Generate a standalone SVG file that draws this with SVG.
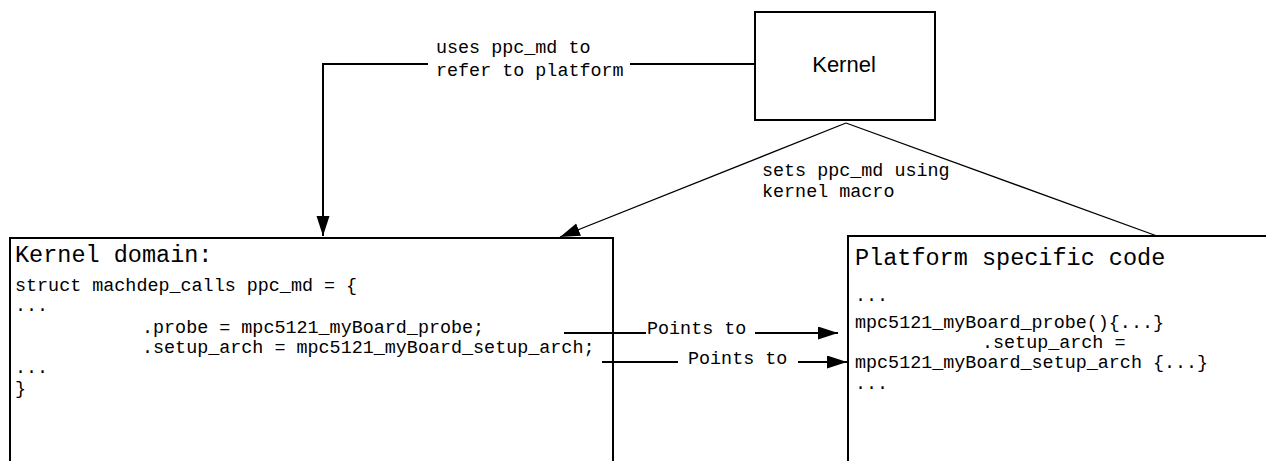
<svg xmlns="http://www.w3.org/2000/svg" width="1266" height="461" viewBox="0 0 1266 461">
<defs>
<style>
.box{fill:#fff;stroke:#000;stroke-width:2}
.mono{font-family:"Liberation Mono","DejaVu Sans Mono",monospace;fill:#000}
.code{font-size:18.4px}
.head{font-size:23.5px}
.lbl{font-size:18.4px}
.sans{font-family:"Liberation Sans",Arial,sans-serif;font-size:22px;fill:#000}
.thick{fill:none;stroke:#000;stroke-width:2}
.thin{fill:none;stroke:#000;stroke-width:1.3}
</style>
<marker id="arr" markerUnits="userSpaceOnUse" markerWidth="22" markerHeight="14" refX="20" refY="6.5" orient="auto">
<path d="M0,0 L20,6.5 L0,13 Z" fill="#000"/>
</marker>
</defs>
<rect width="1266" height="461" fill="#fff"/>
<g id="kernel">
<rect class="box" x="755" y="12" width="180" height="108"/>
<text class="sans" x="844" y="72" text-anchor="middle">Kernel</text>
</g>
<g id="kernel-domain">
<rect class="box" x="10" y="238" width="603" height="240"/>
<text class="mono head" x="15" y="262">Kernel domain:</text>
<text class="mono code" x="15" y="291">struct machdep_calls ppc_md = {</text>
<text class="mono code" x="15" y="311">...</text>
<text class="mono code" x="142" y="333">.probe = mpc5121_myBoard_probe;</text>
<text class="mono code" x="142" y="353">.setup_arch = mpc5121_myBoard_setup_arch;</text>
<text class="mono code" x="15" y="373">...</text>
<text class="mono code" x="15" y="394">}</text>
</g>
<g id="platform">
<rect class="box" x="848" y="236" width="440" height="240"/>
<text class="mono head" x="855" y="265">Platform specific code</text>
<text class="mono code" x="855" y="301">...</text>
<text class="mono code" x="855" y="328">mpc5121_myBoard_probe(){...}</text>
<text class="mono code" x="982" y="348">.setup_arch =</text>
<text class="mono code" x="855" y="368">mpc5121_myBoard_setup_arch {...}</text>
<text class="mono code" x="855" y="389">...</text>
</g>
<g id="connectors">
<path class="thick" d="M755,64 H630 M428,64 H323 V236" marker-end="url(#arr)"/>
<path class="thin" d="M846,123 L560,237" marker-end="url(#arr)"/>
<path class="thin" d="M846,123 L1157,236"/>
<path class="thick" d="M564,333 H646 M755,333 H838" marker-end="url(#arr)"/>
<path class="thick" d="M602,362 H678 M798,362 H847" marker-end="url(#arr)"/>
<text class="mono lbl" x="436" y="53">uses ppc_md to</text>
<text class="mono lbl" x="436" y="76">refer to platform</text>
<text class="mono lbl" x="762" y="176">sets ppc_md using</text>
<text class="mono lbl" x="762" y="197">kernel macro</text>
<text class="mono lbl" x="647" y="334">Points to</text>
<text class="mono lbl" x="688" y="364">Points to</text>
</g>
</svg>
